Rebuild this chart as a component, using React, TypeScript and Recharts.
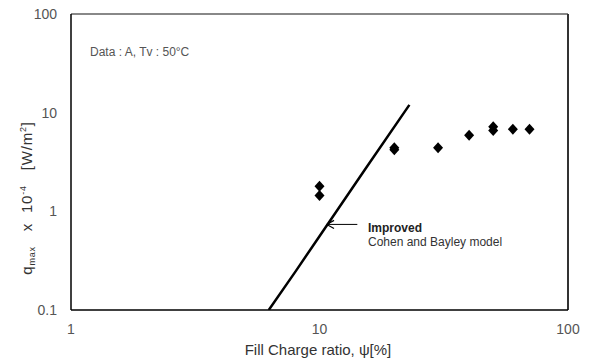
import React from "react";
import {
  ComposedChart,
  Line,
  Scatter,
  XAxis,
  YAxis,
  ReferenceLine,
} from "recharts";

// measured q_max points (fill charge ratio %, q_max x10^-4 W/m2)
const fillRatio = [10, 10, 20, 20, 30, 40, 50, 50, 60, 70];
const qmax = [1.8, 1.45, 4.2, 4.4, 4.4, 5.9, 6.6, 7.2, 6.8, 6.8];

// improved Cohen and Bayley model curve
const modelRatio = [6.25, 8, 10, 15, 23];
const modelQ = [0.1, 0.245, 0.56, 2.5, 12];

const xTicks = [1, 10, 100];
const yTicks = [0.1, 1, 10, 100];

const points = fillRatio.map((x, i) => ({ x, y: qmax[i] }));
const model = modelRatio.map((x, i) => ({ x, y: modelQ[i] }));

const font = "Arial, 'Liberation Sans', sans-serif";
const grey = "#555";

const Diamond = (props: any) => {
  const { cx, cy } = props;
  if (cx == null || cy == null) return null;
  return (
    <polygon
      points={`${cx},${cy - 5.5} ${cx + 5},${cy} ${cx},${cy + 5.5} ${cx - 5},${cy}`}
      fill="#000"
    />
  );
};

const App = () => {
  return (
    <div style={{ position: "absolute", left: 0, top: 0, background: "#fff" }}>
      <ComposedChart
        width={590}
        height={360}
        margin={{ top: 14, right: 22, bottom: 20, left: 11 }}
        style={{ fontFamily: font }}
      >
        <XAxis
          dataKey="x"
          type="number"
          scale="log"
          domain={[1, 100]}
          ticks={xTicks}
          allowDataOverflow
          height={30}
          tickLine={false}
          tickMargin={8}
          axisLine={{ stroke: "#000", strokeWidth: 1.5 }}
          tick={{ fill: grey, fontSize: 14 }}
        />
        <YAxis
          dataKey="y"
          type="number"
          scale="log"
          domain={[0.1, 100]}
          ticks={yTicks}
          allowDataOverflow
          width={60}
          tickLine={false}
          tickMargin={8}
          axisLine={{ stroke: "#000", strokeWidth: 1.5 }}
          tick={{ fill: grey, fontSize: 14 }}
        />
        <ReferenceLine y={100} stroke="#888" strokeWidth={2} />
        <ReferenceLine x={100} stroke="#333" strokeWidth={2} />
        <Line
          data={model}
          dataKey="y"
          stroke="#000"
          strokeWidth={2.5}
          dot={false}
          isAnimationActive={false}
        />
        <Scatter
          data={points}
          dataKey="y"
          shape={<Diamond />}
          isAnimationActive={false}
        />
        {/* annotation arrow */}
        <ReferenceLine
          segment={[
            { x: 14.2, y: 0.737 },
            { x: 10.7, y: 0.737 },
          ]}
          stroke="#000"
          strokeWidth={1}
        />
        <ReferenceLine
          segment={[
            { x: 11.44, y: 0.81 },
            { x: 10.7, y: 0.737 },
          ]}
          stroke="#000"
          strokeWidth={1.2}
        />
        <ReferenceLine
          segment={[
            { x: 11.44, y: 0.671 },
            { x: 10.7, y: 0.737 },
          ]}
          stroke="#000"
          strokeWidth={1.2}
        />
        <text x={90} y={56} fontSize={12} fill={grey} fontFamily={font}>
          Data : A, Tv : 50°C
        </text>
        <text x={368} y={232} fontSize={12} fontWeight="bold" fill="#222" fontFamily={font}>
          Improved
        </text>
        <text x={368} y={246} fontSize={12} fill="#333" fontFamily={font}>
          Cohen and Bayley model
        </text>
        <text
          x={318}
          y={355}
          fontSize={15}
          fill="#333"
          textAnchor="middle"
          fontFamily={font}
        >
          Fill Charge ratio, ψ[%]
        </text>
        <text
          transform="translate(32, 198) rotate(-90)"
          fontSize={15}
          fill="#333"
          textAnchor="middle"
          fontFamily={font}
          letterSpacing={0.8}
          style={{ whiteSpace: "pre" }}
        >
          q<tspan fontSize={9} dy={3}>max</tspan>
          <tspan dy={-3}>{"   x  10"}</tspan>
          <tspan fontSize={9} dy={-6}>-4</tspan>
          <tspan dy={6}>{"   [W/m"}</tspan>
          <tspan fontSize={9} dy={-6}>2</tspan>
          <tspan dy={6}>]</tspan>
        </text>
      </ComposedChart>
    </div>
  );
};

export default App;
